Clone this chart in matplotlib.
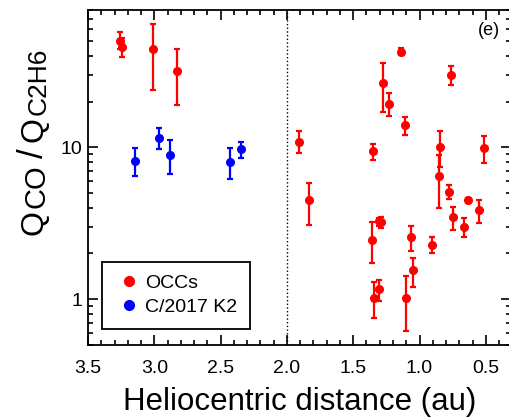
import numpy as np
import matplotlib
matplotlib.use('Agg')
import matplotlib.pyplot as plt
from matplotlib.lines import Line2D
from matplotlib.ticker import LogLocator, MultipleLocator, FixedLocator, NullFormatter

plt.rcParams['font.family'] = ['Liberation Sans', 'DejaVu Sans']

# OCCs (red): heliocentric distance, ratio, lower / upper bound
occ_r = [3.255, 3.244, 3.012, 2.827, 1.910, 1.832, 1.360, 1.350, 1.342, 1.308,
         1.302, 1.288, 1.279, 1.232, 1.141, 1.111, 1.101, 1.061, 1.051, 0.903,
         0.853, 0.842, 0.774, 0.765, 0.744, 0.664, 0.631, 0.554, 0.513]
occ_q = [50.2, 45.8, 44.6, 31.8, 10.9, 4.48, 2.44, 9.41, 1.02, 3.25,
         1.16, 3.20, 26.4, 19.2, 42.6, 13.95, 1.02, 2.55, 1.55, 2.29,
         6.48, 10.05, 5.08, 29.9, 3.46, 2.99, 4.50, 3.85, 9.85]
occ_lo = [44.0, 39.5, 23.8, 19.1, 9.18, 3.08, 1.73, 8.30, 0.753, 3.05,
          0.97, 2.95, 17.0, 16.0, 40.3, 12.0, 0.616, 2.07, 1.21, 2.03,
          3.99, 7.44, 4.60, 25.6, 2.87, 2.56, 4.33, 3.18, 7.93]
occ_hi = [57.5, 52.0, 65.2, 44.6, 12.7, 5.86, 3.20, 10.58, 1.29, 3.45,
          1.34, 3.50, 35.9, 22.6, 44.8, 15.8, 1.42, 3.04, 1.88, 2.55,
          8.9, 12.7, 5.62, 34.3, 4.05, 3.40, 4.67, 4.50, 11.8]

# C/2017 K2 (blue)
k2_r = [3.146, 2.967, 2.880, 2.428, 2.349]
k2_q = [8.13, 11.58, 8.9, 8.05, 9.7]
k2_lo = [6.47, 9.7, 6.71, 6.22, 8.5]
k2_hi = [9.85, 13.4, 11.1, 9.95, 10.9]

W, H = 510, 417
fig = plt.figure(figsize=(W / 100, H / 100), dpi=100)
ax = fig.add_axes([88 / W, 72 / H, 423 / W, 335 / H])


def draw(r, q, lo, hi, color):
    q = np.array(q)
    yerr = [q - np.array(lo), np.array(hi) - q]
    ax.errorbar(r, q, yerr=yerr, fmt='o', color=color, ms=5.5, elinewidth=1.6,
                capsize=2.2, capthick=1.6)


draw(occ_r, occ_q, occ_lo, occ_hi, 'red')
draw(k2_r, k2_q, k2_lo, k2_hi, 'blue')

ax.axvline(2.0, color='black', ls=':', lw=1.0)

ax.set_yscale('log')
ax.set_xlim(3.5, 0.31)
ax.set_ylim(0.5, 80)

ax.xaxis.set_major_locator(FixedLocator([3.5, 3.0, 2.5, 2.0, 1.5, 1.0, 0.5]))
ax.xaxis.set_minor_locator(MultipleLocator(0.1))
ax.set_xticklabels(['3.5', '3.0', '2.5', '2.0', '1.5', '1.0', '0.5'])
ax.yaxis.set_major_locator(FixedLocator([1, 10]))
ax.set_yticklabels(['1', '10'])
ax.yaxis.set_minor_locator(LogLocator(base=10, subs=np.arange(2, 10)))
ax.yaxis.set_minor_formatter(NullFormatter())

ax.tick_params(which='both', direction='in', top=True, right=True, width=1.2)
ax.tick_params(which='major', length=7)
ax.tick_params(which='minor', length=3.5)
ax.tick_params(axis='x', labelsize=14, pad=11)
ax.tick_params(axis='y', labelsize=14, pad=4)
for s in ax.spines.values():
    s.set_linewidth(1.3)

ax.set_xlabel('Heliocentric distance (au)', fontsize=22.5, labelpad=7)

# y label built from pieces: Q, CO (subscript), /, Q, C2H6 (subscript)
# (text, start y px from top, baseline x px, font size)
ylab = [('Q', 235, 43, 23), ('CO', 208, 45, 21), ('/', 158, 43, 25),
        ('Q', 142, 43, 23), ('C2H6', 115, 46, 19)]
for s, y0, x0, fs in ylab:
    fig.text(x0 / W, 1 - y0 / H, s, rotation=90, rotation_mode='anchor',
             ha='left', va='baseline', fontsize=fs)

ax.text(0.974, 0.964, '(e)', transform=ax.transAxes, fontsize=13,
        ha='right', va='top')

handles = [Line2D([], [], ls='none', marker='o', ms=7, color='red'),
           Line2D([], [], ls='none', marker='o', ms=7, color='blue')]
leg = ax.legend(handles, ['OCCs', 'C/2017 K2'], loc='lower left',
                bbox_to_anchor=(0.033, 0.048), borderaxespad=0, fontsize=14,
                handlelength=1.45, handletextpad=0.1, borderpad=0.65,
                labelspacing=0.35, fancybox=False, edgecolor='black',
                framealpha=1)
leg.get_frame().set_linewidth(1.3)

fig.savefig('out.png', dpi=100)
